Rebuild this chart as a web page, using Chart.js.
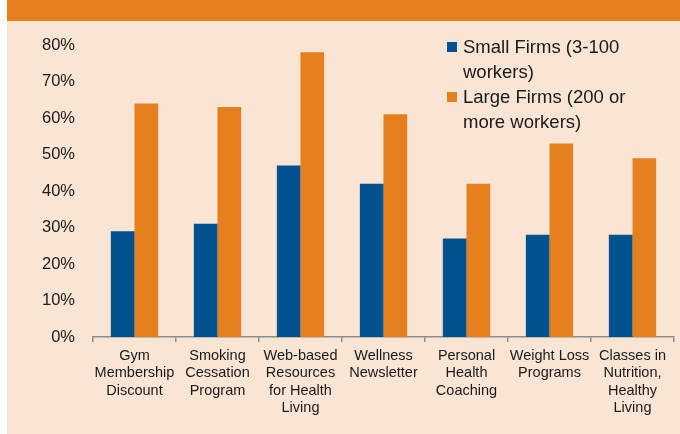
<!DOCTYPE html>
<html>
<head>
<meta charset="utf-8">
<script src="https://cdn.jsdelivr.net/npm/chart.js@4"></script>
<style>
  html, body { margin: 0; padding: 0; background: #fff; }
  body { width: 680px; height: 434px; position: relative; overflow: hidden;
         font-family: "Liberation Sans", Arial, sans-serif; color: #1a1a1a; }
  .panel { position: absolute; left: 7px; top: 0; width: 673px; height: 434px; background: #fae4d3; }
  .band { position: absolute; left: 7px; top: 0; width: 673px; height: 21px; background: #e6801e; }
  #chart { position: absolute; left: 0; top: 0; }
  .legend { position: absolute; left: 463px; top: 34px; font-size: 18.5px; line-height: 25px; }
  .legend .sw { position: absolute; left: -16px; width: 10px; height: 10px; }
</style>
</head>
<body>
<div class="panel"></div>
<div class="band"></div>
<canvas id="chart" width="680" height="434"></canvas>
<div class="legend">
  <span class="sw" style="top:8px;background:#00528f"></span>
  <div>Small Firms (3-100<br>workers)</div>
  <span class="sw" style="top:58px;background:#e6801e"></span>
  <div>Large Firms (200 or<br>more workers)</div>
</div>
<script>
const categories = [
  ["Gym", "Membership", "Discount"],
  ["Smoking", "Cessation", "Program"],
  ["Web-based", "Resources", "for Health", "Living"],
  ["Wellness", "Newsletter"],
  ["Personal", "Health", "Coaching"],
  ["Weight Loss", "Programs"],
  ["Classes in", "Nutrition,", "Healthy", "Living"]
];
const smallFirms = [29, 31, 47, 42, 27, 28, 28];
const largeFirms = [64, 63, 78, 61, 42, 53, 49];
const seriesNames = ["Small Firms (3-100 workers)", "Large Firms (200 or more workers)"];

const font = { family: "'Liberation Sans', Arial, sans-serif" };

new Chart(document.getElementById("chart"), {
  type: "bar",
  data: {
    labels: categories,
    datasets: [
      { label: seriesNames[0], data: smallFirms, backgroundColor: "#00528f" },
      { label: seriesNames[1], data: largeFirms, backgroundColor: "#e6801e" }
    ]
  },
  options: {
    responsive: false,
    animation: false,
    layout: { padding: { top: 45, right: 6, left: 0, bottom: 0 } },
    datasets: { bar: { categoryPercentage: 0.57, barPercentage: 1 } },
    plugins: { legend: { display: false }, tooltip: { enabled: false } },
    scales: {
      x: {
        grid: { display: true, drawOnChartArea: false, drawTicks: true, tickLength: 5, color: "#8c8c8c", lineWidth: 1.5 },
        border: { display: true, color: "#8c8c8c", width: 1.5 },
        ticks: { color: "#1a1a1a", font: { ...font, size: 14.5 }, maxRotation: 0, autoSkip: false, padding: 5 },
        afterFit: (s) => { s.height = 97; }
      },
      y: {
        min: 0,
        max: 80,
        grid: { display: false, drawTicks: false },
        border: { display: false },
        ticks: { stepSize: 10, color: "#1a1a1a", font: { ...font, size: 16.5 }, padding: 18, callback: (v) => v + "%" },
        afterFit: (s) => { s.width = 93; }
      }
    }
  }
});
</script>
</body>
</html>
